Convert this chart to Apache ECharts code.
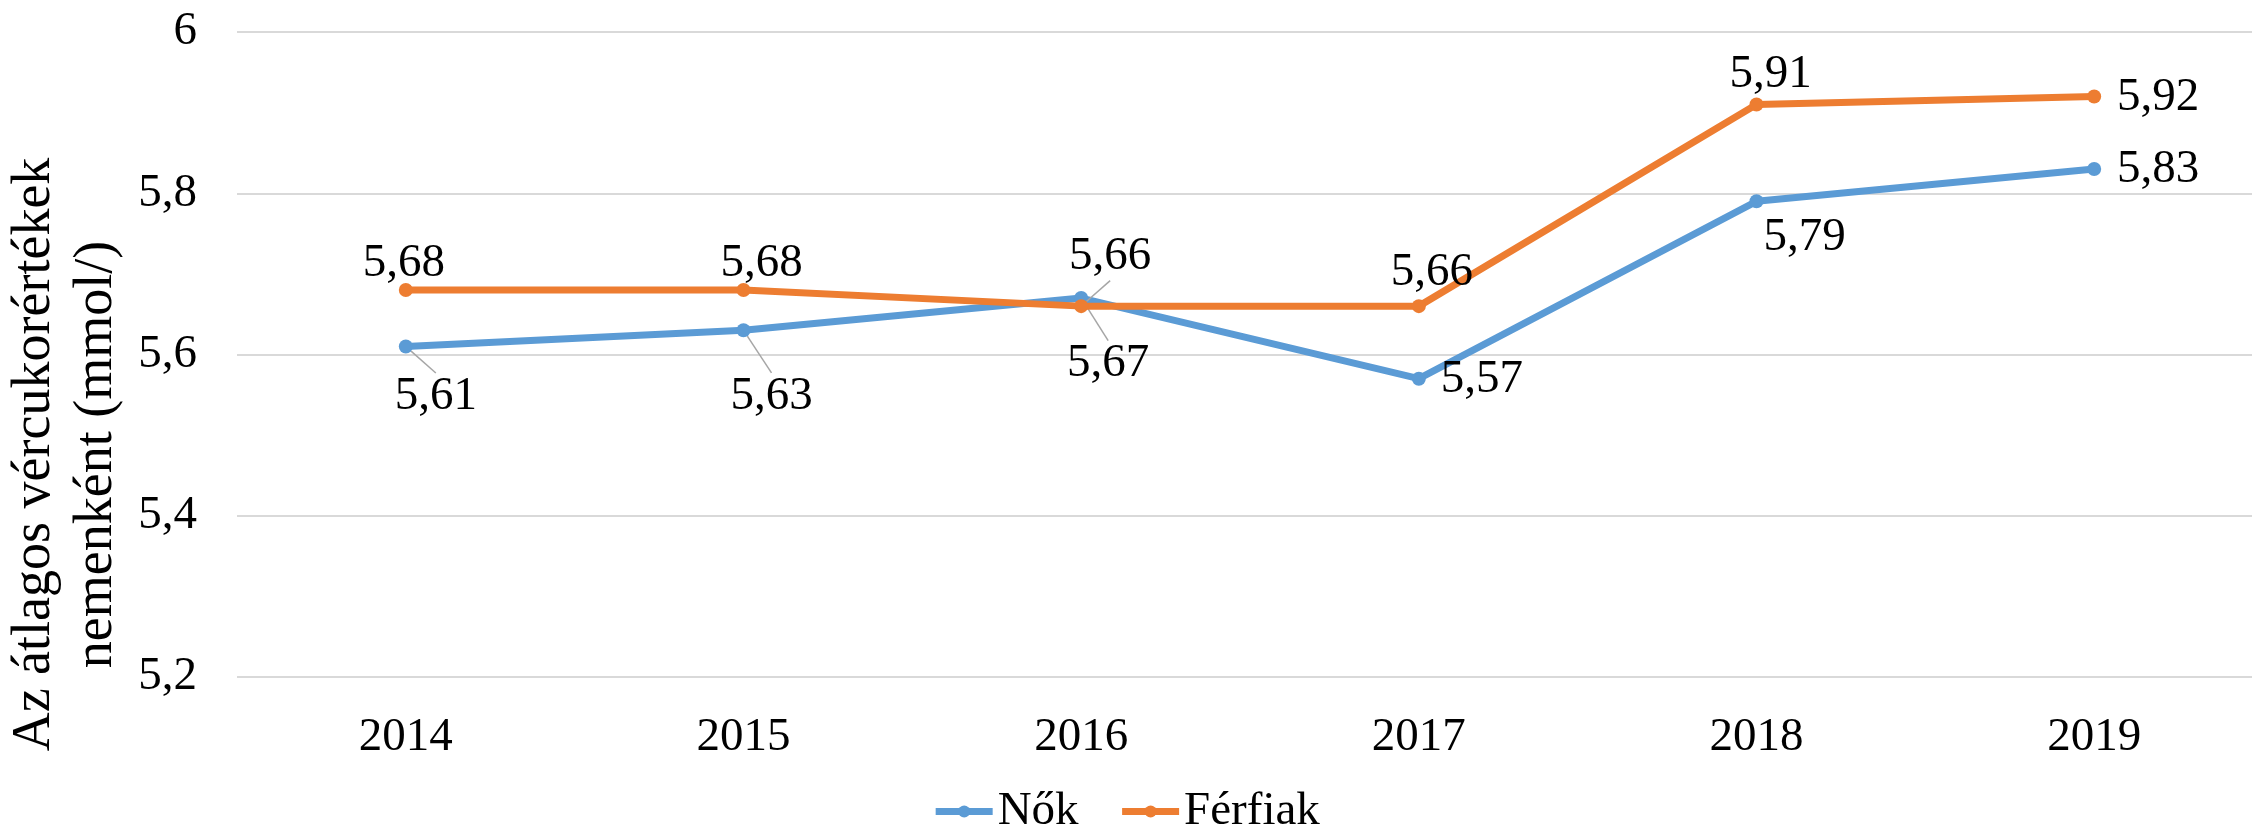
<!DOCTYPE html>
<html>
<head>
<meta charset="utf-8">
<script src="https://cdn.jsdelivr.net/npm/echarts@6/dist/echarts.min.js"></script>
<style>
html,body{margin:0;padding:0;background:#fff;}
#chart{width:2252px;height:829px;}
</style>
</head>
<body>
<div id="chart"></div>
<script>
// ---- data ----
const years = ['2014', '2015', '2016', '2017', '2018', '2019'];
const nok = [5.61, 5.63, 5.67, 5.57, 5.79, 5.83];
const ferfiak = [5.68, 5.68, 5.66, 5.66, 5.91, 5.92];
const seriesNames = ['Nők', 'Férfiak'];
const yAxisTitle = 'Az átlagos vércukorértékek\nnemenként (mmol/)';

// ---- label placement (style only) ----
const nokLabelShift = [[30, 50], [28, 66], [27, 66], [63, 1], [48, 36], [64, 1]];
const nokLeader = [true, true, true, false, false, false];
const ferLabelShift = [[-2, -26], [18, -26], [29, -49], [13, -33], [14, -30], [64, 1]];
const ferLeader = [false, false, true, false, false, false];

const FONT = 'Liberation Serif';
const FS = 47;
const fmt2 = v => v.toFixed(2).replace('.', ',');

function makeData(vals, leaders) {
  return vals.map((v, i) => ({
    value: v,
    labelLine: { show: leaders[i] }
  }));
}

function layoutFn(shifts) {
  return function (params) {
    const s = shifts[params.dataIndex];
    return { dx: s[0], dy: s[1] };
  };
}

const chart = echarts.init(document.getElementById('chart'), null, { renderer: 'canvas' });
const option = {
  backgroundColor: '#ffffff',
  animation: false,
  textStyle: { fontFamily: FONT },
  grid: { left: 237, right: -11, top: 32, bottom: 152, containLabel: false, outerBoundsMode: 'none' },
  legend: {
    data: seriesNames,
    bottom: -11,
    left: 'center',
    itemWidth: 57,
    itemHeight: 15,
    itemGap: 40,
    lineStyle: { width: 7 },
    textStyle: { fontFamily: FONT, fontSize: FS, color: '#000' }
  },
  xAxis: {
    type: 'category',
    data: years,
    boundaryGap: true,
    axisLine: { show: false },
    axisTick: { show: false },
    axisLabel: { fontFamily: FONT, fontSize: FS, color: '#000', margin: 37 }
  },
  yAxis: {
    type: 'value',
    min: 5.2,
    max: 6,
    interval: 0.2,
    name: yAxisTitle,
    nameLocation: 'middle',
    nameGap: 102,
    nameTextStyle: {
      fontFamily: FONT, fontSize: 54, color: '#000', lineHeight: 62,
      align: 'center', padding: [0, 200, 0, 0]
    },
    axisLine: { show: false },
    axisTick: { show: false },
    splitLine: { lineStyle: { color: '#D9D9D9', width: 2 } },
    axisLabel: {
      fontFamily: FONT, fontSize: FS, color: '#000', margin: 40,
      formatter: v => String(+v.toFixed(1)).replace('.', ',')
    }
  },
  series: [
    {
      name: seriesNames[0],
      type: 'line',
      data: makeData(nok, nokLeader),
      color: '#5B9BD5',
      symbol: 'circle',
      symbolSize: 14,
      lineStyle: { width: 7, color: '#5B9BD5' },
      itemStyle: { color: '#5B9BD5' },
      label: {
        show: true, position: 'inside', color: '#000',
        fontFamily: FONT, fontSize: FS,
        formatter: p => fmt2(p.value)
      },
      labelLine: { lineStyle: { color: '#A6A6A6', width: 1.5 } },
      labelLayout: layoutFn(nokLabelShift),
      z: 3
    },
    {
      name: seriesNames[1],
      type: 'line',
      data: makeData(ferfiak, ferLeader),
      color: '#ED7D31',
      symbol: 'circle',
      symbolSize: 14,
      lineStyle: { width: 7, color: '#ED7D31' },
      itemStyle: { color: '#ED7D31' },
      label: {
        show: true, position: 'inside', color: '#000',
        fontFamily: FONT, fontSize: FS,
        formatter: p => fmt2(p.value)
      },
      labelLine: { lineStyle: { color: '#A6A6A6', width: 1.5 } },
      labelLayout: layoutFn(ferLabelShift),
      z: 4
    }
  ]
};
chart.setOption(option);
</script>
</body>
</html>
